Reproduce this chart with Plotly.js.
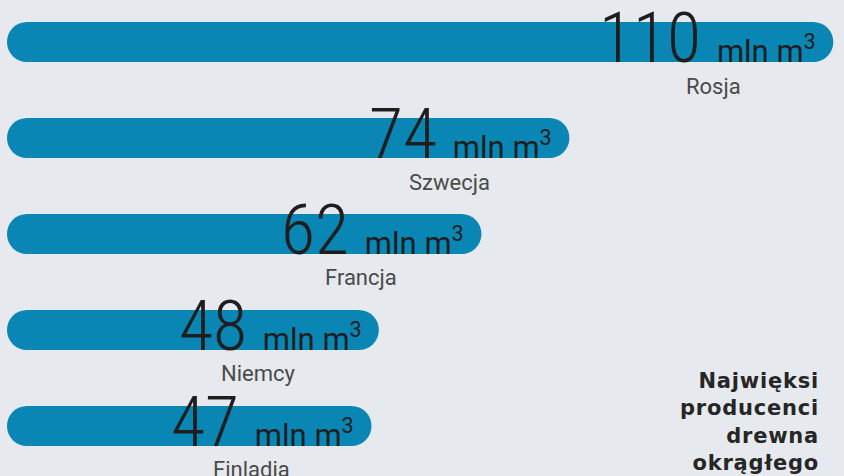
<!DOCTYPE html>
<html>
<head>
<meta charset="utf-8">
<script src="https://cdn.plot.ly/plotly-3.0.1.min.js"></script>
<style>html,body{margin:0;padding:0;background:#e6eaee;}#chart{width:844px;height:476px;}</style>
</head>
<body>
<div id="chart"></div>
<script>
const countries = ["Rosja", "Szwecja", "Francja", "Niemcy", "Finladia"];
const values = [110, 74, 62, 48, 47];
const unitLabel = "mln m<sup>3</sup>";
const titleLines = ["Najwięksi", "producenci", "drewna", "okrągłego"];

const barColor = "#0a86b5";
const bg = "#e6eaee";

const traces = [
  {
    type: "bar",
    orientation: "h",
    x: values,
    y: countries,
    marker: { color: barColor, cornerradius: 20, line: { width: 0 } },
    hoverinfo: "skip"
  },
  {
    type: "scatter",
    mode: "markers",
    x: countries.map(() => 0),
    y: countries,
    marker: { color: barColor, size: 40, line: { width: 0 } },
    hoverinfo: "skip"
  }
];

const annotations = [];
countries.forEach((c, i) => {
  annotations.push({
    x: values[i], y: c, xref: "x", yref: "y",
    xanchor: "right", yanchor: "middle",
    xshift: -15, yshift: 4,
    showarrow: false,
    text: '<span style="font-family:Roboto Condensed;font-weight:300;font-size:70px">' + values[i] + '&nbsp;</span>' + unitLabel,
    font: { family: "Roboto, sans-serif", size: 31, weight: 400, color: "#1e1e1e" }
  });
  annotations.push({
    x: values[i], y: c, xref: "x", yref: "y",
    xanchor: "center", yanchor: "middle",
    xshift: -120, yshift: -44,
    showarrow: false,
    text: c,
    font: { family: "Roboto, sans-serif", size: 22, weight: 400, color: "#4a4a4a" }
  });
});
annotations.push({
  x: 0.973, y: -0.003, xref: "paper", yref: "paper",
  xanchor: "right", yanchor: "bottom", align: "right",
  showarrow: false,
  text: '<b><span style="letter-spacing:0.8px">' + titleLines.join("<br>") + "</span></b>",
  font: { family: "DejaVu Sans, sans-serif", size: 21, color: "#262626" }
});

const layout = {
  width: 844, height: 476,
  margin: { l: 0, r: 0, t: 0, b: 0, pad: 0 },
  paper_bgcolor: bg, plot_bgcolor: bg,
  showlegend: false,
  bargap: 0.583,
  xaxis: { range: [-3.68, 111.46], visible: false, fixedrange: true },
  yaxis: { type: "category", categoryorder: "array", categoryarray: countries,
           range: [4.521, -0.4375], visible: false, fixedrange: true },
  annotations: annotations
};

Plotly.newPlot("chart", traces, layout, { displayModeBar: false, staticPlot: true });
</script>
</body>
</html>
